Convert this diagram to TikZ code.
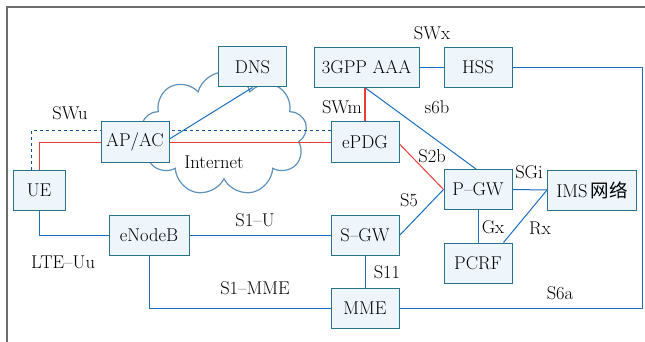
\documentclass[tikz,border=0pt]{standalone}
\usepackage{fontspec}
\newfontfamily\cjk{Noto Sans CJK SC}
\usetikzlibrary{shapes.symbols,backgrounds}
\definecolor{boxline}{RGB}{40,115,140}
\definecolor{boxfill}{RGB}{238,246,252}
\definecolor{linkblue}{RGB}{25,110,190}
\definecolor{linkred}{RGB}{235,60,60}
\definecolor{dashblue}{RGB}{20,80,150}
\definecolor{cloudline}{RGB}{95,145,185}
\definecolor{framegray}{RGB}{110,110,110}
\begin{document}
\begin{tikzpicture}[x=1pt,y=-1pt,
  font=\fontsize{18.5}{20}\selectfont,
  box/.style={draw=boxline,fill=boxfill,line width=1pt,minimum width=68pt,minimum height=40pt,inner sep=2pt},
  blueline/.style={draw=linkblue,line width=1pt},
  redline/.style={draw=linkred,line width=1pt},
  dashline/.style={draw=dashblue,line width=1pt,dashed},
  lbl/.style={inner sep=0pt}]

\useasboundingbox (0,0) rectangle (645,342);
\draw [framegray, line width=2pt] (7,342) -- (7,7) -- (645,7);

\node [box] (dns)  at (252.5,67)  {DNS};
\node [box, minimum width=105pt] (aaa) at (366.5,67.5) {3GPP AAA};
\node [box] (hss)  at (478,67.5)  {HSS};
\node [box] (apac) at (135,142)   {AP/AC};
\node [box] (epdg) at (365,142)   {ePDG};
\node [box, minimum width=52pt] (ue) at (39,190.5) {UE};
\node [box, minimum width=80pt] (enb) at (149,235.5) {eNodeB};
\node [box] (sgw)  at (365,235.5) {S--GW};
\node [box] (mme)  at (365,308)   {MME};
\node [box] (pgw)  at (478,189.5) {P--GW};
\node [box, minimum width=89pt] (ims) at (592,190) {IMS\,{\cjk 网络}};
\node [box] (pcrf) at (478,263)   {PCRF};

\begin{pgfonlayer}{background}
\node [cloud, cloud puffs=9, cloud ignores aspect, draw=cloudline, fill=white,
       line width=1.2pt, minimum width=166pt, minimum height=124pt] (net) at (224,134) {};

\draw [blueline] (dns.south) -- ([yshift=3pt]apac.east);
\draw [redline] (ue.north) |- ([yshift=-1pt]apac.west);
\draw [redline] ([yshift=-1pt]apac.east) -- ([yshift=-1pt]epdg.west);
\draw [dashline] ([xshift=-8pt]ue.north) |- ([yshift=11pt]epdg.west);
\draw [blueline] ([xshift=-1pt]aaa.south) -- ([xshift=-2pt]pgw.north);
\draw [redline, line width=1.5pt] (epdg.north) -- (epdg.north |- aaa.south);
\draw [redline] ([yshift=-2pt]epdg.east) -- (pgw.west);
\draw [blueline] (aaa.east) -- (hss.west);
\draw [blueline] (hss.east) -- ++(130,0) |- (mme.east);
\draw [blueline] (pgw.east) -- (ims.west);
\draw [blueline] (pgw.south) -- (pcrf.north);
\draw [blueline] (ims.west) -- ([xshift=-9pt]pcrf.north east);
\draw [blueline] (sgw.east) -- (pgw.west);
\draw [blueline] (sgw.south) -- (mme.north);
\draw [blueline] (enb.east) -- (sgw.west);
\draw [blueline] (enb.south) |- (mme.west);
\draw [blueline] (ue.south) |- (enb.west);
\end{pgfonlayer}

\node [lbl] (inetlbl) at (214,162) {Internet};
\node [lbl] (swx)   at (432,33)  {SWx};
\node [lbl] (swu)   at (70,113)  {SWu};
\node [lbl] (swm)   at (342,107) {SWm};
\node [lbl] (s6b)   at (437,107) {s6b};
\node [lbl] (s2b)   at (432,156) {S2b};
\node [lbl] (sgi)   at (529,172) {SGi};
\node [lbl] (gx)    at (493,227) {Gx};
\node [lbl] (rx)    at (540,228) {Rx};
\node [lbl] (s5)    at (409,200) {S5};
\node [lbl] (s11)   at (387,272) {S11};
\node [lbl] (s6a)   at (560,293) {S6a};
\node [lbl] (s1u)   at (255,220) {S1--U};
\node [lbl] (s1mme) at (255,288) {S1--MME};
\node [lbl] (lteuu) at (63,262)  {LTE--Uu};

\end{tikzpicture}
\end{document}
